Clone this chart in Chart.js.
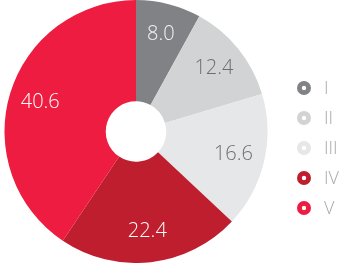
<!DOCTYPE html>
<html>
<head>
<meta charset="utf-8">
<script src="https://cdn.jsdelivr.net/npm/chart.js@4"></script>
<style>
  html, body { margin: 0; padding: 0; background: #fff; }
  #wrap { width: 346px; height: 263px; }
</style>
</head>
<body>
<div id="wrap"><canvas id="share" width="346" height="263"></canvas></div>
<script>
// chart data
const categories = ['I', 'II', 'III', 'IV', 'V'];
const shares = [8.0, 12.4, 16.6, 22.4, 40.6];
const sliceColors = ['#808285', '#d1d3d4', '#e6e7e8', '#be1e2d', '#ed1c40'];
const labelColors = ['#f2f2f2', '#6d6e71', '#6d6e71', '#ffffff', '#ffffff'];

// value labels inside each slice
const sliceLabels = {
  id: 'sliceLabels',
  afterDatasetsDraw(chart) {
    const ctx = chart.ctx;
    const meta = chart.getDatasetMeta(0);
    ctx.save();
    ctx.font = '300 20px "Open Sans"';
    ctx.textAlign = 'center';
    ctx.textBaseline = 'middle';
    meta.data.forEach((arc, i) => {
      const p = arc.getProps(['x', 'y', 'startAngle', 'endAngle', 'innerRadius', 'outerRadius'], true);
      const mid = (p.startAngle + p.endAngle) / 2;
      const r = p.innerRadius + (p.outerRadius - p.innerRadius) * 0.69;
      ctx.fillStyle = labelColors[i];
      ctx.fillText(shares[i].toFixed(1), p.x + Math.cos(mid) * r, p.y + Math.sin(mid) * r);
    });
    ctx.restore();
  }
};

// ring markers legend on the right
const ringLegend = {
  id: 'ringLegend',
  afterDraw(chart) {
    const ctx = chart.ctx;
    const x = chart.chartArea.right + 32;
    ctx.save();
    ctx.font = '300 18px "Open Sans"';
    ctx.textBaseline = 'middle';
    categories.forEach((name, i) => {
      const y = 88 + i * 30;
      ctx.beginPath();
      ctx.arc(x, y, 4.6, 0, Math.PI * 2);
      ctx.fillStyle = '#fff';
      ctx.fill();
      ctx.lineWidth = 4.8;
      ctx.strokeStyle = sliceColors[i];
      ctx.stroke();
      ctx.fillStyle = '#a7a9ac';
      ctx.fillText(name, x + 20, y + 1);
    });
    ctx.restore();
  }
};

new Chart(document.getElementById('share'), {
  type: 'doughnut',
  data: {
    labels: categories,
    datasets: [{
      data: shares,
      backgroundColor: sliceColors,
      borderWidth: 0
    }]
  },
  options: {
    responsive: false,
    animation: false,
    cutout: '23%',
    layout: { padding: { right: 74 } },
    events: [],
    plugins: {
      legend: { display: false },
      tooltip: { enabled: false }
    }
  },
  plugins: [sliceLabels, ringLegend]
});
</script>
</body>
</html>
